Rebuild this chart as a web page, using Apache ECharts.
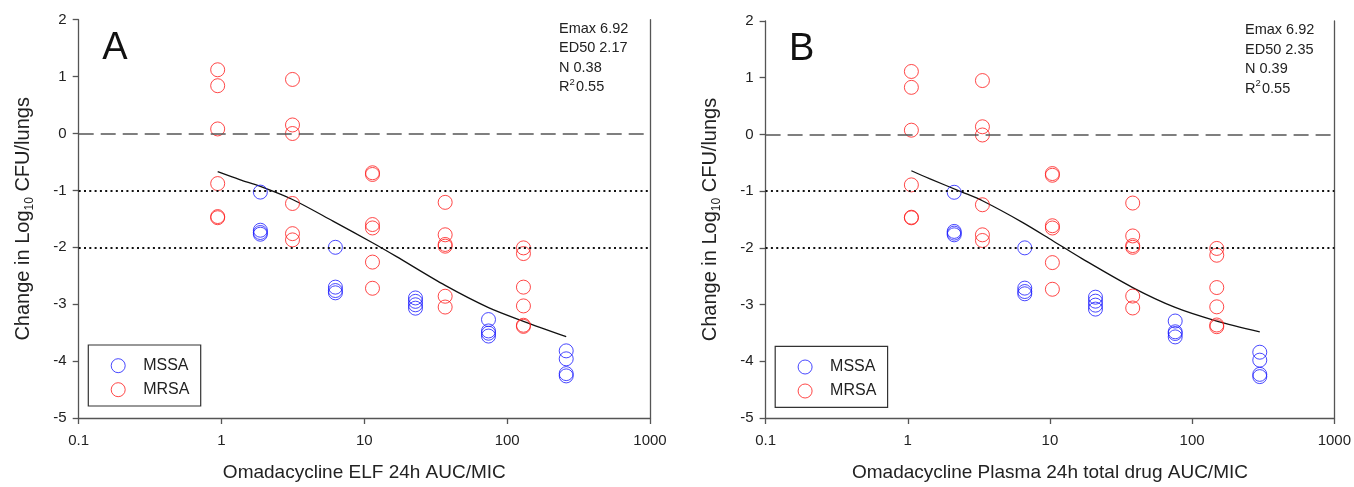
<!DOCTYPE html>
<html>
<head>
<meta charset="utf-8">
<script src="https://cdn.jsdelivr.net/npm/echarts@6/dist/echarts.min.js"></script>
<style>
  html, body { margin: 0; padding: 0; background: #fff; }
  #chart { width: 1354px; height: 487px; }
</style>
</head>
<body>
<div id="chart"></div>
<script>
// panel A: ELF AUC/MIC
var aMrsaX = [0.94, 3.14, 11.4, 36.8, 130];
var aMrsaY = [
    [1.12, 0.84, 0.08, -0.88, -1.46, -1.48],
    [0.95, 0.15, 0.0, -1.23, -1.76, -1.87],
    [-0.69, -0.72, -1.60, -1.66, -2.26, -2.72],
    [-1.21, -1.78, -1.95, -1.98, -2.86, -3.05],
    [-2.01, -2.11, -2.70, -3.03, -3.37, -3.39]
];
var aMssaX = [1.87, 6.27, 22.8, 74, 259];
var aMssaY = [
    [-1.03, -1.70, -1.74, -1.77],
    [-2.0, -2.70, -2.76, -2.80],
    [-2.89, -2.95, -3.01, -3.07],
    [-3.27, -3.47, -3.51, -3.56],
    [-3.82, -3.96, -4.22, -4.26]
];
var aCurveX = [0.94, 1.34, 1.87, 3.14, 6.03, 11.4, 16.7, 36.8, 74, 130, 259];
var aCurveY = [-0.67, -0.81, -0.93, -1.16, -1.54, -1.92, -2.16, -2.67, -3.06, -3.30, -3.57];
var aStats = ['Emax 6.92', 'ED50 2.17', 'N 0.38', '0.55'];

// panel B: plasma total drug AUC/MIC
var bMrsaX = [1.06, 3.35, 10.4, 38.2, 149];
var bMrsaY = [
    [1.11, 0.83, 0.075, -0.89, -1.46, -1.47],
    [0.95, 0.135, -0.01, -1.24, -1.77, -1.87],
    [-0.69, -0.72, -1.61, -1.65, -2.26, -2.73],
    [-1.21, -1.79, -1.96, -1.99, -2.85, -3.06],
    [-2.01, -2.13, -2.70, -3.04, -3.36, -3.39]
];
var bMssaX = [2.12, 6.65, 20.9, 76, 299];
var bMssaY = [
    [-1.02, -1.71, -1.74, -1.77],
    [-2.0, -2.71, -2.77, -2.81],
    [-2.87, -2.94, -3.01, -3.08],
    [-3.29, -3.48, -3.51, -3.57],
    [-3.84, -3.98, -4.23, -4.27]
];
var bCurveX = [1.06, 1.42, 2.43, 3.35, 6.4, 10.4, 16.8, 38.2, 76, 149, 299];
var bCurveY = [-0.64, -0.78, -1.02, -1.17, -1.55, -1.87, -2.19, -2.70, -3.05, -3.29, -3.48];
var bStats = ['Emax 6.92', 'ED50 2.35', 'N 0.39', '0.55'];

var refLines = [0, -1, -2];
var xTitles = ['Omadacycline ELF 24h AUC/MIC', 'Omadacycline Plasma 24h total drug AUC/MIC'];
var yTitle = 'Change in Log{s|10} CFU/lungs';
var panelNames = ['A', 'B'];

var FONT = '"Liberation Sans", Arial, sans-serif';
var RED = '#ff1a1a';
var BLUE = '#1a1aff';
var AXIS = '#555';

function pairs(xs, ys) {
    var out = [];
    for (var i = 0; i < xs.length; i++) {
        for (var j = 0; j < ys[i].length; j++) {
            out.push([xs[i], ys[i][j]]);
        }
    }
    return out;
}
function line(xs, ys) {
    return xs.map(function (x, i) { return [x, ys[i]]; });
}

var grids = [
    { left: 78.7, top: 19.7, width: 571.3, height: 399.3 },
    { left: 765.6, top: 21, width: 570.4, height: 399 }
];

function makeX(i) {
    return {
        type: 'log', logBase: 10, gridIndex: i, min: 0.1, max: 1000,
        name: xTitles[i], nameLocation: 'middle', nameGap: 45,
        nameTextStyle: { fontFamily: FONT, fontSize: 19, color: '#222' },
        axisLine: { show: true, onZero: false, lineStyle: { color: AXIS, width: 1.3 } },
        axisTick: { show: true, length: 6, lineStyle: { color: AXIS, width: 1.3 } },
        minorTick: { show: false },
        axisLabel: {
            margin: 15, fontFamily: FONT, fontSize: 15, color: '#222',
            formatter: function (v) { return String(+Number(v).toPrecision(3)); }
        },
        splitLine: { show: false }
    };
}
function makeY(i) {
    return {
        type: 'value', gridIndex: i, min: -5, max: 2, interval: 1,
        name: yTitle, nameLocation: 'middle', nameGap: 43,
        nameTextStyle: {
            fontFamily: FONT, fontSize: 20, color: '#222', lineHeight: 25,
            rich: { s: { fontFamily: FONT, fontSize: 12, color: '#222', verticalAlign: 'bottom', lineHeight: 12 } }
        },
        axisLine: { show: true, onZero: false, lineStyle: { color: AXIS, width: 1.3 } },
        axisTick: { show: true, length: 6, lineStyle: { color: AXIS, width: 1.3 } },
        axisLabel: { margin: 12, fontFamily: FONT, fontSize: 15, color: '#222' },
        splitLine: { show: false }
    };
}
function makeRight(i) {
    return {
        type: 'value', gridIndex: i, min: -5, max: 2, position: 'right',
        axisLine: { show: true, onZero: false, lineStyle: { color: AXIS, width: 1.3 } },
        axisTick: { show: false }, axisLabel: { show: false }, splitLine: { show: false }
    };
}

function refMarks() {
    return refLines.map(function (v) {
        if (v === 0) {
            return { yAxis: v, lineStyle: { type: [15, 7], color: '#555', width: 1.6 } };
        }
        return { yAxis: v, lineStyle: { type: [2, 3.3], color: '#111', width: 2 } };
    });
}

function panelSeries(i, mssaX, mssaY, mrsaX, mrsaY, curveX, curveY) {
    return [
        {
            type: 'line', xAxisIndex: i, yAxisIndex: i, data: line(curveX, curveY),
            smooth: 0.3, showSymbol: false, symbol: 'none',
            lineStyle: { color: '#111', width: 1.3 },
            markLine: { silent: true, symbol: ['none', 'none'], label: { show: false }, data: refMarks() },
            z: 2
        },
        {
            name: 'MSSA', type: 'scatter', xAxisIndex: i, yAxisIndex: i, data: pairs(mssaX, mssaY),
            symbol: 'circle', symbolSize: 14,
            itemStyle: { color: 'transparent', borderColor: BLUE, borderWidth: 1 }, z: 3
        },
        {
            name: 'MRSA', type: 'scatter', xAxisIndex: i, yAxisIndex: i, data: pairs(mrsaX, mrsaY),
            symbol: 'circle', symbolSize: 14,
            itemStyle: { color: 'transparent', borderColor: RED, borderWidth: 1 }, z: 3
        }
    ];
}

function legendFor(i) {
    var g = grids[i];
    return {
        orient: 'vertical', left: g.left + 32, top: g.top + 338, padding: 0,
        itemWidth: 14, itemHeight: 14, itemGap: 8, selectedMode: false,
        textStyle: { fontFamily: FONT, fontSize: 16, color: '#222', padding: [0, 0, 0, 13] },
        data: [
            { name: 'MSSA', icon: 'circle', itemStyle: { color: 'transparent', borderColor: BLUE, borderWidth: 1 } },
            { name: 'MRSA', icon: 'circle', itemStyle: { color: 'transparent', borderColor: RED, borderWidth: 1 } }
        ]
    };
}

function panelGraphics(i, stats) {
    var g = grids[i];
    var right = g.left + g.width;
    var sx = right - 91;
    var ty = g.top + 9;
    var step = 19.5;
    var font = '14.5px ' + FONT;
    var els = [
        { type: 'text', left: g.left + 23.5, top: g.top + 9.5,
          style: { text: panelNames[i], font: '38px ' + FONT, fill: '#111' } },
        { type: 'rect', shape: { x: g.left + 9.6, y: g.top + 325.3, width: 112.4, height: 61 },
          style: { fill: 'none', stroke: '#333', lineWidth: 1.2 } }
    ];
    for (var k = 0; k < 3; k++) {
        els.push({ type: 'text', x: sx, y: ty + k * step,
            style: { text: stats[k], font: font, fill: '#222', textVerticalAlign: 'middle' } });
    }
    els.push({ type: 'text', x: sx, y: ty + 3 * step,
        style: { text: 'R', font: font, fill: '#222', textVerticalAlign: 'middle' } });
    els.push({ type: 'text', x: sx + 10.6, y: ty + 3 * step - 5,
        style: { text: '2', font: '9.5px ' + FONT, fill: '#222', textVerticalAlign: 'middle' } });
    els.push({ type: 'text', x: sx + 17, y: ty + 3 * step,
        style: { text: stats[3], font: font, fill: '#222', textVerticalAlign: 'middle' } });
    return els;
}

var chart = echarts.init(document.getElementById('chart'), null, { renderer: 'canvas' });
chart.setOption({
    animation: false,
    backgroundColor: '#fff',
    textStyle: { fontFamily: FONT },
    grid: grids,
    xAxis: [makeX(0), makeX(1)],
    yAxis: [makeY(0), makeY(1), makeRight(0), makeRight(1)],
    legend: [legendFor(0), legendFor(1)],
    graphic: panelGraphics(0, aStats).concat(panelGraphics(1, bStats)),
    series: panelSeries(0, aMssaX, aMssaY, aMrsaX, aMrsaY, aCurveX, aCurveY)
        .concat(panelSeries(1, bMssaX, bMssaY, bMrsaX, bMrsaY, bCurveX, bCurveY))
});
</script>
</body>
</html>
